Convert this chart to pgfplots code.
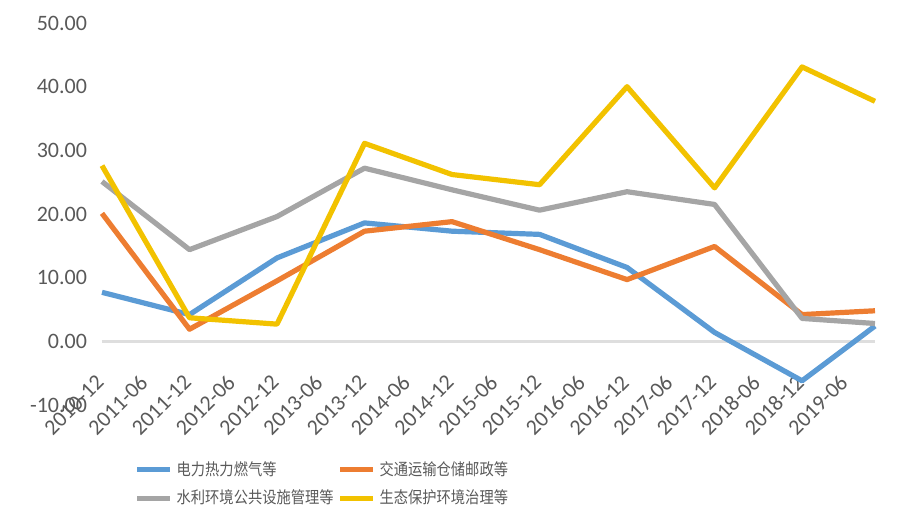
\documentclass[border=0pt]{standalone}
\usepackage{pgfplots}
\pgfplotsset{compat=1.18}
\usepackage{fontspec}
\setmainfont{Carlito}
\newfontfamily\cjk[FakeStretch=0.87]{Noto Sans CJK SC}
\definecolor{sblue}{HTML}{5B9BD5}
\definecolor{sorange}{HTML}{ED7D31}
\definecolor{sgray}{HTML}{A5A5A5}
\definecolor{syellow}{HTML}{F2C200}
\definecolor{txt}{HTML}{595959}

% x = months since 2010-12
\pgfplotstableread{
x    elec  trans  water  eco
0    7.7   20.1   25.1   27.6
12   4.2   1.9    14.4   3.7
24   13.1  9.5    19.6   2.7
36   18.6  17.3   27.2   31.1
48   17.3  18.8   23.8   26.2
60   16.8  14.4   20.6   24.6
72   11.6  9.7    23.5   40.0
84   1.4   14.9   21.5   24.1
96   -6.2  4.2    3.6    43.1
106  2.4   4.8    2.8    37.7
}\datatab

\begin{document}
\begin{tikzpicture}
\path[use as bounding box] (0,0) rectangle (453pt,265pt);
\begin{axis}[
    at={(51pt,62.5pt)}, anchor=south west,
    scale only axis, width=386.5pt, height=191pt,
    xmin=0, xmax=106, ymin=-10, ymax=50,
    clip=false,
    axis line style={draw=none},
    major tick length=0pt,
    ytick={-10,0,...,50},
    yticklabel style={/pgf/number format/fixed, /pgf/number format/fixed zerofill,
        /pgf/number format/precision=2, /pgf/number format/assume math mode=true,
        xshift=-4pt, font=\fontsize{11}{13}\selectfont, text=txt},
    xtick={0,6,...,102},
    xticklabels={2010-12,2011-06,2011-12,2012-06,2012-12,2013-06,2013-12,2014-06,2014-12,2015-06,2015-12,2016-06,2016-12,2017-06,2017-12,2018-06,2018-12,2019-06},
    xticklabel style={yshift=15.5pt, xshift=1.5pt, rotate=45, anchor=east, font=\fontsize{11}{13}\selectfont, text=txt},
    extra y ticks={0}, extra y tick labels={},
    extra y tick style={grid=major, major grid style={draw=black!13, line width=1.2pt}},
    legend columns=2,
    legend cell align=left,
    legend style={at={(0.034,-0.125)}, anchor=north west, draw=none, fill=none,
        font=\cjk\fontsize{8.2}{9.8}\selectfont, text=txt, row sep=2pt,
        /tikz/every even column/.append style={column sep=0pt}},
    legend image code/.code={\draw[#1, line width=2.5pt] (0pt,0pt) -- (16.5pt,0pt);},
    every axis plot/.append style={line width=2.6pt, line join=round, no markers},
]
\addplot[sblue] table[x=x, y=elec] {\datatab};
\addlegendentry{电力热力燃气等}
\addplot[sorange] table[x=x, y=trans] {\datatab};
\addlegendentry{交通运输仓储邮政等}
\addplot[sgray] table[x=x, y=water] {\datatab};
\addlegendentry{水利环境公共设施管理等}
\addplot[syellow] table[x=x, y=eco] {\datatab};
\addlegendentry{生态保护环境治理等}
\end{axis}
\end{tikzpicture}
\end{document}
